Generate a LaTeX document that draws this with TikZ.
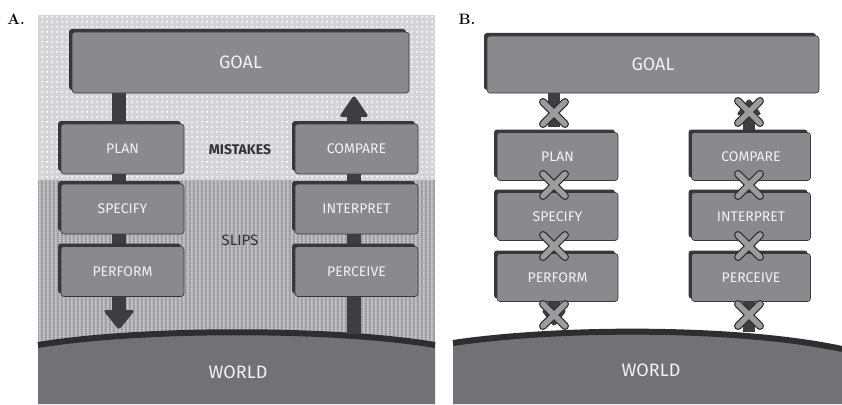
\documentclass[tikz,border=0pt]{standalone}
\usepackage{fontspec}
\setsansfont{Fira Sans}
\usetikzlibrary{patterns.meta,shadows}
\definecolor{boxc}{HTML}{8A8A8E}
\definecolor{shadc}{HTML}{38383A}
\definecolor{stemc}{HTML}{3E3E42}
\definecolor{txtc}{HTML}{F2F2F2}
\definecolor{groundc}{HTML}{727276}
\definecolor{edgec}{HTML}{2E2E30}
\definecolor{dotbg}{HTML}{D4D4D6}
\definecolor{dotfg}{HTML}{FAFAFA}
\definecolor{stripebg}{HTML}{A2A2A4}
\definecolor{stripefg}{HTML}{D2D2D4}
\definecolor{crossc}{HTML}{9C9C9E}
\definecolor{labc}{HTML}{333335}
\pgfdeclarelayer{bg}\pgfdeclarelayer{mid}\pgfsetlayers{bg,mid,main}
\tikzdeclarepattern{name=bigdots, type=uncolored,
  bounding box={(0pt,0pt) and (5pt,5pt)}, tile size={(5pt,5pt)},
  code={\fill (2.5pt,2.5pt) circle (1.4pt);}}
\tikzdeclarepattern{name=vstripes, type=uncolored,
  bounding box={(0pt,0pt) and (3.5pt,2pt)}, tile size={(3.5pt,2pt)},
  code={\fill (0pt,-0.2pt) rectangle (1.8pt,2.2pt);}}
\tikzset{
  box/.style={draw=shadc, line width=0.6pt, fill=boxc, rounded corners=3pt,
    inner sep=0pt, text=txtc, font=\sffamily\fontsize{14pt}{16pt}\selectfont,
    drop shadow={shadow xshift=-3pt, shadow yshift=3pt, opacity=1, fill=shadc}},
  boxA/.style={box, minimum width=123pt, minimum height=50pt},
  boxB/.style={box, minimum width=121pt, minimum height=48pt},
  goalbox/.style={box, font=\sffamily\fontsize{18pt}{20pt}\selectfont},
  stem/.style={draw=stemc, line width=14pt},
  headfill/.style={fill=stemc, rounded corners=3pt},
  ground/.style={fill=groundc},
  groundedge/.style={draw=edgec, line width=6pt},
  zonelabel/.style={text=labc, font=\sffamily\fontsize{15pt}{17pt}\selectfont},
  zonelabelbold/.style={zonelabel, font=\sffamily\bfseries\fontsize{14pt}{16pt}\selectfont},
  worldlabel/.style={text=txtc, font=\sffamily\fontsize{18pt}{20pt}\selectfont},
  panellabel/.style={font=\rmfamily\bfseries\fontsize{15pt}{17pt}\selectfont},
  xmk/.pic={
    \draw[edgec, line width=8pt, line cap=round] (-11,-11) -- (11,11) (-11,11) -- (11,-11);
    \draw[crossc, line width=5.5pt, line cap=round] (-11,-11) -- (11,11) (-11,11) -- (11,-11);
  }
}
\begin{document}
\begin{tikzpicture}[x=1pt,y=-1pt]
\useasboundingbox (0,0) rectangle (842,404);
\begin{pgfonlayer}{bg}
  \fill[white] (0,0) rectangle (842,404);
\end{pgfonlayer}

% ---------- Panel A ----------
\node[panellabel] (labA) at (16,19) {A.};
\node[goalbox, minimum width=337pt, minimum height=61pt] (goalA) at (240.5,62.5) {GOAL};
\node[boxA] (planA) at (122.5,149) {PLAN};
\node[boxA] (specA) at (122.5,209) {SPECIFY};
\node[boxA] (perfA) at (122.5,271.5) {PERFORM};
\node[boxA] (compA) at (356.5,149) {COMPARE};
\node[boxA] (intA) at (356.5,209) {INTERPRET};
\node[boxA] (percA) at (356.5,271.5) {PERCEIVE};
\node[zonelabelbold] (mistakes) at (240,150) {MISTAKES};
\node[zonelabel] (slips) at (240,240) {SLIPS};
\node[worldlabel] (worldA) at (238,372) {WORLD};

\coordinate (lsA) at (119,0);
\coordinate (rsA) at (354,0);
\coordinate (tipDownA) at (119,330);
\coordinate (tipUpA) at (354,95);
\coordinate (gndA) at (354,334);

\begin{pgfonlayer}{bg}
  \fill[dotbg] (38,15) rectangle (435,180);
  \fill[pattern={bigdots}, pattern color=dotfg] (38,15) rectangle (435,180);
  \fill[stripebg] (38,180) rectangle (435,350);
  \fill[pattern={vstripes}, pattern color=stripefg] (38,180) rectangle (435,350);
  \fill[ground] (38,345) .. controls (140,328) and (335,328) .. (435,345) -- (435,404) -- (38,404) -- cycle;
  \draw[groundedge] (38,345) .. controls (140,328) and (335,328) .. (435,345);
\end{pgfonlayer}

\begin{pgfonlayer}{mid}
  \draw[stem] (goalA.south -| lsA) -- (planA.north -| lsA);
  \draw[stem] (planA.south -| lsA) -- (specA.north -| lsA);
  \draw[stem] (specA.south -| lsA) -- (perfA.north -| lsA);
  \draw[stem] (perfA.south -| lsA) -- ([yshift=12pt]tipDownA);
  \fill[headfill] ([xshift=-16pt,yshift=20pt]tipDownA) -- ([xshift=16pt,yshift=20pt]tipDownA) -- (tipDownA) -- cycle;
  \draw[stem] (gndA) -- (percA.south -| rsA);
  \draw[stem] (percA.north -| rsA) -- (intA.south -| rsA);
  \draw[stem] (intA.north -| rsA) -- (compA.south -| rsA);
  \draw[stem] (compA.north -| rsA) -- ([yshift=-12pt]tipUpA);
  \fill[headfill] ([xshift=-15pt,yshift=-22pt]tipUpA) -- ([xshift=15pt,yshift=-22pt]tipUpA) -- (tipUpA) -- cycle;
\end{pgfonlayer}

% ---------- Panel B ----------
\node[panellabel] (labB) at (467,19) {B.};
\node[goalbox, minimum width=332pt, minimum height=57pt] (goalB) at (653,64.5) {GOAL};
\node[boxB] (planB) at (557.5,156.5) {PLAN};
\node[boxB] (specB) at (557.5,216.5) {SPECIFY};
\node[boxB] (perfB) at (557.5,277.5) {PERFORM};
\node[boxB, minimum width=119pt] (compB) at (751,156.5) {COMPARE};
\node[boxB, minimum width=119pt] (intB) at (751,216.5) {INTERPRET};
\node[boxB, minimum width=119pt] (percB) at (751,277.5) {PERCEIVE};
\node[worldlabel] (worldB) at (651,370) {WORLD};

\coordinate (lsB) at (554,0);
\coordinate (rsB) at (749,0);
\coordinate (xl1) at (554,113);
\coordinate (xl2) at (554,185);
\coordinate (xl3) at (554,246);
\coordinate (xl4) at (554,315);
\coordinate (xr1) at (749,112);
\coordinate (xr2) at (749,185);
\coordinate (xr3) at (749,246);
\coordinate (xr4) at (749,315);
\coordinate (tipDownB) at (554,327);
\coordinate (tipUpB) at (749,98);
\coordinate (gndB) at (749,332);

\begin{pgfonlayer}{bg}
  \fill[ground] (453,343) .. controls (560,327) and (740,327) .. (842,349) -- (842,404) -- (453,404) -- cycle;
  \draw[groundedge] (453,343) .. controls (560,327) and (740,327) .. (842,349);
\end{pgfonlayer}

\begin{pgfonlayer}{mid}
  \draw[stem, line width=12pt] (goalB.south -| lsB) -- (xl1 |- 0,127);
  \draw[stem, line width=12pt] (perfB.south -| lsB) -- ([yshift=10pt]tipDownB);
  \fill[headfill] ([xshift=-13pt,yshift=17pt]tipDownB) -- ([xshift=13pt,yshift=17pt]tipDownB) -- (tipDownB) -- cycle;
  \draw[stem, line width=12pt] (compB.north -| rsB) -- ([yshift=-10pt]tipUpB);
  \fill[headfill] ([xshift=-13pt,yshift=-17pt]tipUpB) -- ([xshift=13pt,yshift=-17pt]tipUpB) -- (tipUpB) -- cycle;
  \draw[stem, line width=12pt] (percB.south -| rsB) -- (gndB);
\end{pgfonlayer}

\foreach \c in {xl1,xl2,xl3,xl4,xr1,xr2,xr3,xr4}{
  \pic at (\c) {xmk};
}
\end{tikzpicture}
\end{document}
